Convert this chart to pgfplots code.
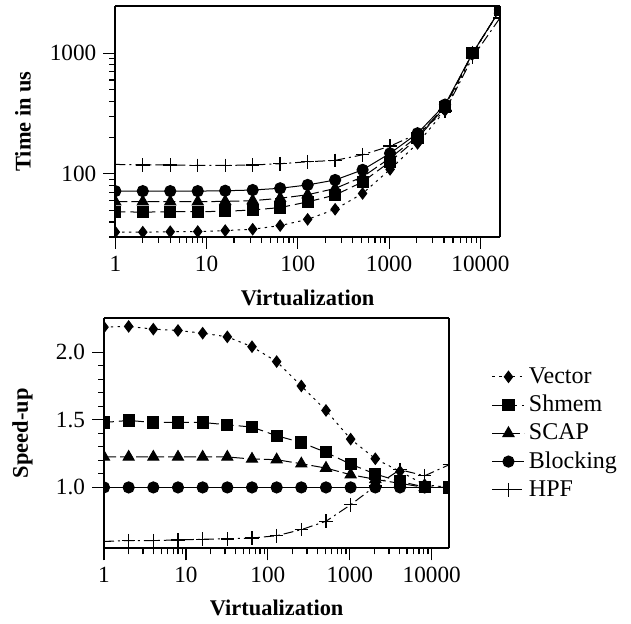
\documentclass[border=0pt]{standalone}
\usepackage{fontspec}
\setmainfont{Liberation Serif}
\usepackage{pgfplots}
\pgfplotsset{compat=1.18}
\usepackage{pgfplotstable}

\pgfplotstableread{
x vec shm scap blk hpf
1 33.0 48.6 58.8 72 119.8
2 32.9 48.2 58.8 72 118.6
4 33.2 48.6 58.8 72 118.6
8 33.3 48.6 58.8 72 117.6
16 33.9 49.0 59.2 72.5 117.5
32 34.8 50.2 60.0 73.5 118.5
64 37.3 52.6 62.8 76 121.4
128 42.0 58.6 67.2 81 126
256 50.9 66.8 75.7 89 129.4
512 68.8 85.8 94.5 108 144
1024 109 126.3 135.3 148 169.7
2048 179 197.5 204.7 217 214.9
4096 335 359 364 375 331.6
8192 980 997 1000 1000 921
16384 2290 2290 2290 2290 1960
}\timedata

\pgfplotstableread{
x vec shm scap blk hpf
1 2.185 1.48 1.225 1.0 0.601
2 2.19 1.495 1.225 1.0 0.607
4 2.17 1.48 1.225 1.0 0.607
8 2.16 1.48 1.225 1.0 0.612
16 2.14 1.48 1.225 1.0 0.617
32 2.113 1.463 1.225 1.0 0.62
64 2.04 1.446 1.21 1.0 0.626
128 1.93 1.382 1.205 1.0 0.643
256 1.75 1.332 1.175 1.0 0.688
512 1.569 1.259 1.143 1.0 0.75
1024 1.357 1.172 1.094 1.0 0.872
2048 1.212 1.099 1.06 1.0 1.01
4096 1.118 1.044 1.03 1.0 1.131
8192 1.02 1.003 1.0 1.0 1.086
16384 1.0 1.0 1.0 1.0 1.168
}\speeddata

\pgfplotsset{
  svec/.style={black, line width=0.5pt, dash pattern=on 1.2pt off 2.2pt, mark=diamond*, mark size=2.8pt, mark options={solid}},
  sshm/.style={black, line width=0.5pt, dash pattern=on 5pt off 2.5pt, mark=square*, mark size=2.8pt, mark options={solid}},
  sscap/.style={black, line width=0.5pt, dash pattern=on 6pt off 2pt, mark=triangle*, mark size=3.2pt, mark options={solid}},
  sblk/.style={black, line width=0.5pt, solid, mark=*, mark size=2.8pt},
  shpf/.style={black, line width=0.5pt, dash pattern=on 5pt off 2pt on 1pt off 2pt, mark=+, mark size=3.4pt, mark options={solid, line width=0.7pt}},
}

\begin{document}
\begin{tikzpicture}
\useasboundingbox (0,0) rectangle (315.5pt,311.5pt);
\begin{axis}[
  xmode=log, ymode=log,
  scale only axis,
  at={(57.65pt,193pt)}, anchor=south west,
  width=192.35pt, height=115.5pt,
  xmin=1, xmax=16384,
  ymin=30, ymax=2460,
  log ticks with fixed point,
  tick align=outside,
  xtick pos=bottom, ytick pos=left,
  separate axis lines,
  axis line style={line width=1pt},
  major tick length=6pt, minor tick length=3pt,
  every tick/.style={black, line width=0.6pt},
  label style={font=\fontsize{11.2}{13}\selectfont\bfseries},
  tick label style={font=\fontsize{11.6}{13}\selectfont},
  clip marker paths=true,
  /pgf/number format/1000 sep={},
  /pgf/number format/assume math mode=true,
  xlabel={Virtualization},
  ylabel={Time in us},
  ylabel style={at={(axis description cs:-0.24,0.5)}, anchor=center},
  xlabel style={at={(axis description cs:0.5,-0.264)}, anchor=center},
]
\addplot[svec] table[x=x,y=vec] {\timedata};
\addplot[sshm] table[x=x,y=shm] {\timedata};
\addplot[sscap] table[x=x,y=scap] {\timedata};
\addplot[sblk] table[x=x,y=blk] {\timedata};
\addplot[shpf] table[x=x,y=hpf] {\timedata};
\end{axis}
\begin{axis}[
  xmode=log,
  scale only axis,
  at={(52pt,37.35pt)}, anchor=south west,
  width=172.65pt, height=115pt,
  xmin=1, xmax=16384,
  ymin=0.55, ymax=2.25,
  ytick={1,1.5,2}, minor y tick num=4,
  log ticks with fixed point,
  tick align=outside,
  xtick pos=bottom, ytick pos=left,
  separate axis lines,
  axis line style={line width=1pt},
  major tick length=6pt, minor tick length=3pt,
  every tick/.style={black, line width=0.6pt},
  label style={font=\fontsize{11.2}{13}\selectfont\bfseries},
  tick label style={font=\fontsize{11.6}{13}\selectfont},
  clip marker paths=true,
  /pgf/number format/1000 sep={},
  /pgf/number format/assume math mode=true,
  yticklabel style={/pgf/number format/.cd, fixed, fixed zerofill, precision=1},
  xlabel={Virtualization},
  ylabel={Speed-up},
  ylabel style={at={(axis description cs:-0.236,0.5)}, anchor=center},
  xlabel style={at={(axis description cs:0.5,-0.26)}, anchor=center},
  legend style={draw=none, fill=none, at={(axis description cs:1.105,0.5)}, anchor=west,
    font=\fontsize{12}{14}\selectfont, row sep=0.5pt},
  legend image code/.code={\draw[mark repeat=2,mark phase=2] plot coordinates {(0pt,0pt)(8pt,0pt)(16pt,0pt)};},
  legend cell align=left,
]
\addplot[svec] table[x=x,y=vec] {\speeddata};
\addlegendentry{Vector}
\addplot[sshm] table[x=x,y=shm] {\speeddata};
\addlegendentry{Shmem}
\addplot[sscap] table[x=x,y=scap] {\speeddata};
\addlegendentry{SCAP}
\addplot[sblk] table[x=x,y=blk] {\speeddata};
\addlegendentry{Blocking}
\addplot[shpf] table[x=x,y=hpf] {\speeddata};
\addlegendentry{HPF}
\end{axis}
\end{tikzpicture}
\end{document}
